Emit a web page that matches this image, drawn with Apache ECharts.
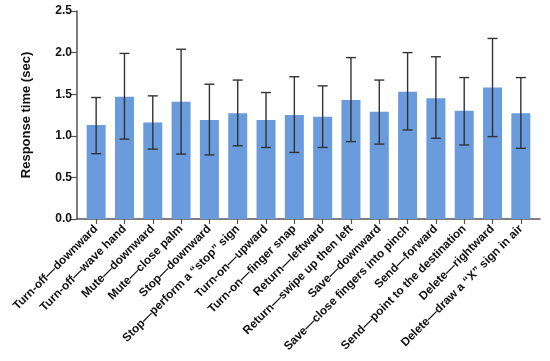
<!DOCTYPE html>
<html><head><meta charset="utf-8">
<script src="https://cdn.jsdelivr.net/npm/echarts@6/dist/echarts.min.js"></script>
<style>html,body{margin:0;padding:0;background:#fff}#c{width:550px;height:361px}</style>
</head><body><div id="c"></div>
<script>
var categories = ["Turn-off\u2014downward","Turn-off\u2014wave hand","Mute\u2014downward","Mute\u2014close palm","Stop\u2014downward","Stop\u2014perform a \u201cstop\u201d sign","Turn-on\u2014upward","Turn-on\u2014finger snap","Return\u2014leftward","Return\u2014swipe up then left","Save\u2014downward","Save\u2014close fingers into pinch","Send\u2014forward","Send\u2014point to the destination","Delete\u2014rightward","Delete\u2014draw a \u201cX\u201d sign in air"];
var meanValues = [1.13,1.47,1.16,1.41,1.19,1.27,1.19,1.25,1.23,1.43,1.29,1.53,1.45,1.30,1.58,1.27];
var errLow = [0.785,0.96,0.84,0.78,0.77,0.88,0.86,0.80,0.86,0.93,0.90,1.07,0.97,0.89,0.99,0.85];
var errHigh = [1.46,1.99,1.48,2.04,1.62,1.67,1.52,1.71,1.60,1.94,1.67,2.00,1.95,1.70,2.17,1.70];
var yTicks = [0,0.5,1.0,1.5,2.0,2.5];

var chart = echarts.init(document.getElementById('c'));
var font = '"Liberation Sans", Arial, sans-serif';
var errData = categories.map(function(c,i){return [i, errLow[i], errHigh[i]];});
chart.setOption({
  animation:false,
  grid:[
    {left:77,right:10,top:11,bottom:142},
    {left:82,right:15,top:11,bottom:142}
  ],
  xAxis:[
    {type:'value',gridIndex:0,min:0,max:1,axisLine:{show:true,lineStyle:{color:'#555',width:1.5}},axisTick:{show:false},axisLabel:{show:false},splitLine:{show:false}},
    {type:'category',gridIndex:1,data:categories,axisLine:{show:false},
     axisTick:{show:true,alignWithLabel:true,length:5,lineStyle:{color:'#555',width:1.2}},
     axisLabel:{rotate:45,interval:0,fontFamily:font,fontWeight:'bold',fontSize:11.8,color:'#111',margin:8}}
  ],
  yAxis:[
    {type:'value',gridIndex:0,min:yTicks[0],max:yTicks[yTicks.length-1],interval:0.5,
     name:'Response time (sec)',nameLocation:'middle',nameGap:44,
     nameTextStyle:{fontFamily:font,fontWeight:'bold',fontSize:13,color:'#111'},
     axisLine:{show:true,lineStyle:{color:'#555',width:1.5}},
     axisTick:{show:true,length:6,lineStyle:{color:'#555',width:1.2}},
     axisLabel:{fontFamily:font,fontWeight:'bold',fontSize:12,color:'#111',margin:5,
       formatter:function(v){return v.toFixed(1);}},
     splitLine:{show:false}},
    {type:'value',gridIndex:1,min:0,max:2.5,interval:0.5,show:false}
  ],
  series:[
    {type:'bar',xAxisIndex:1,yAxisIndex:1,data:meanValues,barWidth:19,
     itemStyle:{color:'#6a9bdd'}},
    {type:'custom',xAxisIndex:1,yAxisIndex:1,data:errData,z:5,
     renderItem:function(params,api){
       var x=api.value(0);
       var lo=api.coord([x,api.value(1)]);
       var hi=api.coord([x,api.value(2)]);
       var hw=5;
       var st={stroke:'#333',lineWidth:1.4};
       return {type:'group',children:[
         {type:'line',shape:{x1:lo[0],y1:lo[1],x2:hi[0],y2:hi[1]},style:st},
         {type:'line',shape:{x1:lo[0]-hw,y1:lo[1],x2:lo[0]+hw,y2:lo[1]},style:st},
         {type:'line',shape:{x1:hi[0]-hw,y1:hi[1],x2:hi[0]+hw,y2:hi[1]},style:st}
       ]};
     }}
  ]
});
</script></body></html>
